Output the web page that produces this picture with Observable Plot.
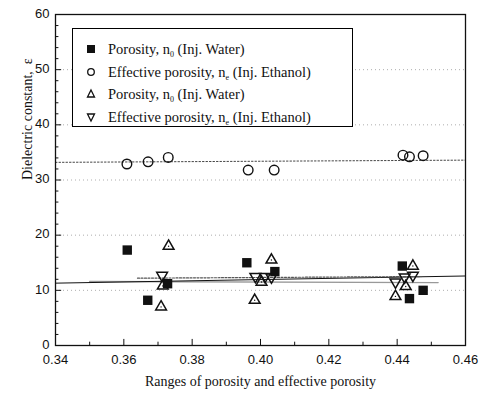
<!DOCTYPE html>
<html>
<head>
<meta charset="utf-8">
<script src="https://cdn.jsdelivr.net/npm/d3@7"></script>
<script src="https://cdn.jsdelivr.net/npm/@observablehq/plot@0.6"></script>
<style>
  html, body { margin: 0; padding: 0; background: #fff; }
  #wrap { position: relative; width: 481px; height: 395px; }
  #legend {
    position: absolute; left: 72px; top: 28px; width: 281px; height: 99px;
    box-sizing: border-box; border: 1px solid #000; background: #fff;
    font-family: "Liberation Serif", "Times New Roman", serif; font-size: 14.5px; color: #111;
  }
  .row { position: absolute; left: 0; height: 20px; line-height: 20px; white-space: nowrap; }
  .row svg { position: absolute; left: 11px; top: 3px; }
  .row span.t { position: absolute; left: 35px; top: 0; }
  sub { font-size: 8px; vertical-align: -3px; line-height: 0; }
</style>
</head>
<body>
<div id="wrap"></div>
<script>
// ---- data ----
const xTicks = [0.34, 0.36, 0.38, 0.40, 0.42, 0.44, 0.46];
const xMinor = [0.35, 0.37, 0.39, 0.41, 0.43, 0.45];
const yTicks = [0, 10, 20, 30, 40, 50, 60];
const yMinor = [2, 4, 6, 8, 12, 14, 16, 18, 22, 24, 26, 28, 32, 34, 36, 38, 42, 44, 46, 48, 52, 54, 56, 58];
const gridY = [10, 20, 30, 40, 50];

// Porosity n0 (Inj. Water) - filled squares
const sqX = [0.361, 0.367, 0.3728, 0.396, 0.4042, 0.4415, 0.4436, 0.4476];
const sqY = [17.3, 8.2, 11.2, 15.0, 13.4, 14.4, 8.5, 10.0];
// Effective porosity ne (Inj. Ethanol) - open circles
const ciX = [0.3609, 0.3671, 0.373, 0.3964, 0.404, 0.4417, 0.4436, 0.4476];
const ciY = [32.9, 33.3, 34.1, 31.8, 31.8, 34.5, 34.2, 34.4];
// Porosity n0 (Inj. Water) - open up triangles
const tuX = [0.3731, 0.3714, 0.3709, 0.4032, 0.4003, 0.3983, 0.4446, 0.4425, 0.4395];
const tuY = [18.0, 10.8, 7.0, 15.5, 11.5, 8.2, 14.4, 10.7, 8.9];
// Effective porosity ne (Inj. Ethanol) - open down triangles
const tdX = [0.3712, 0.3985, 0.4013, 0.4032, 0.4395, 0.4422, 0.4446];
const tdY = [12.7, 12.5, 12.5, 12.4, 11.5, 12.4, 12.7];

// fitted lines (end points)
const fitBlackX = [0.34, 0.46], fitBlackY = [11.3, 12.6];
const fitGreyX = [0.35, 0.452], fitGreyY = [11.6, 11.4];
const fitDotX = [0.364, 0.447], fitDotY = [12.2, 12.5];
const fitCircX = [0.34, 0.46], fitCircY = [33.2, 33.6];

const zip = (xs, ys) => xs.map((x, i) => ({x, y: ys[i]}));
const squares = zip(sqX, sqY), circles = zip(ciX, ciY), tUp = zip(tuX, tuY), tDown = zip(tdX, tdY);

const sqrt3 = Math.sqrt(3);
const triangleDown = {
  draw(context, size) {
    const y = -Math.sqrt(size / (sqrt3 * 3));
    context.moveTo(0, -y * 2);
    context.lineTo(-sqrt3 * y, y);
    context.lineTo(sqrt3 * y, y);
    context.closePath();
  }
};

const xDom = [0.34, 0.46], yDom = [0, 60];
const majLenY = 1.1, minLenY = 0.6;      // tick lengths along y (data units)
const majLenX = 0.0018, minLenX = 0.001;  // tick lengths along x (data units)

const chart = Plot.plot({
  width: 481, height: 395,
  marginLeft: 55, marginRight: 16, marginTop: 14, marginBottom: 50,
  style: {background: "#fff", color: "#111"},
  x: {domain: xDom},
  y: {domain: yDom},
  marks: [
    Plot.ruleY(gridY, {stroke: "#999", strokeDasharray: "1,3", strokeWidth: 0.8}),
    Plot.line(zip(fitCircX, fitCircY), {x: "x", y: "y", stroke: "#444", strokeDasharray: "1.5,2", strokeWidth: 1}),
    Plot.line(zip(fitGreyX, fitGreyY), {x: "x", y: "y", stroke: "#999", strokeWidth: 1.3}),
    Plot.line(zip(fitBlackX, fitBlackY), {x: "x", y: "y", stroke: "#111", strokeWidth: 1}),
    Plot.line(zip(fitDotX, fitDotY), {x: "x", y: "y", stroke: "#555", strokeDasharray: "2,1.5", strokeWidth: 1.2}),
    Plot.dot(squares, {x: "x", y: "y", symbol: "square", r: 5.3, fill: "#111", stroke: "none"}),
    Plot.dot(circles, {x: "x", y: "y", symbol: "circle", r: 4.8, fill: "none", stroke: "#111", strokeWidth: 1.4}),
    Plot.dot(tUp, {x: "x", y: "y", symbol: "triangle", r: 4, fill: "none", stroke: "#111", strokeWidth: 1.5}),
    Plot.dot(tDown, {x: "x", y: "y", symbol: triangleDown, r: 4, fill: "none", stroke: "#111", strokeWidth: 1.5}),
    Plot.dot(tUp, {x: "x", y: "y", r: 0.7, fill: "#111"}),
    // ticks (inward)
    Plot.ruleX(xTicks, {x: d => d, y1: yDom[0], y2: yDom[0] + majLenY, stroke: "#111"}),
    Plot.ruleX(xMinor, {x: d => d, y1: yDom[0], y2: yDom[0] + minLenY, stroke: "#111"}),
    Plot.ruleY(yTicks, {y: d => d, x1: xDom[0], x2: xDom[0] + majLenX, stroke: "#111"}),
    Plot.ruleY(yMinor, {y: d => d, x1: xDom[0], x2: xDom[0] + minLenX, stroke: "#111"}),
    Plot.frame({stroke: "#111", strokeWidth: 1.3}),
    Plot.axisX(xTicks, {tickSize: 0, tickPadding: 9, tickFormat: d3.format(".2f"), fontSize: 13, fontFamily: "Liberation Sans, Arial, sans-serif", label: null}),
    Plot.axisY(yTicks, {tickSize: 0, tickPadding: 6, dy: -1, fontSize: 13, fontFamily: "Liberation Sans, Arial, sans-serif", label: null}),
    Plot.text(["Ranges of porosity and effective porosity"], {frameAnchor: "bottom", dy: 40, fontSize: 14, fontFamily: "Liberation Serif, Times New Roman, serif"}),
    Plot.text(["Dielectric constant,  \u03B5"], {frameAnchor: "left", dx: -28, rotate: -90, fontSize: 14, fontFamily: "Liberation Serif, Times New Roman, serif"})
  ]
});

const wrap = document.getElementById("wrap");
wrap.appendChild(chart);

// legend overlay
const legendItems = [
  {sym: "square", label: "Porosity, n<sub>0</sub> (Inj. Water)"},
  {sym: "circle", label: "Effective porosity, n<sub>e</sub> (Inj. Ethanol)"},
  {sym: "up", label: "Porosity, n<sub>0</sub> (Inj. Water)"},
  {sym: "down", label: "Effective porosity, n<sub>e</sub> (Inj. Ethanol)"}
];
const symSvg = {
  square: '<rect x="3" y="3" width="8" height="8" fill="#111"/>',
  circle: '<circle cx="7" cy="7" r="3.3" fill="none" stroke="#111" stroke-width="1.3"/>',
  up: '<path d="M7,3 L10.5,10 L3.5,10 Z" fill="none" stroke="#111" stroke-width="1.3"/>',
  down: '<path d="M3.5,4 L10.5,4 L7,11 Z" fill="none" stroke="#111" stroke-width="1.3"/>'
};
const leg = document.createElement("div");
leg.id = "legend";
legendItems.forEach((it, i) => {
  const row = document.createElement("div");
  row.className = "row";
  row.style.top = (10 + i * 22.6) + "px";
  row.innerHTML = `<svg width="14" height="14">${symSvg[it.sym]}</svg><span class="t">${it.label}</span>`;
  leg.appendChild(row);
});
wrap.appendChild(leg);
</script>
</body>
</html>
